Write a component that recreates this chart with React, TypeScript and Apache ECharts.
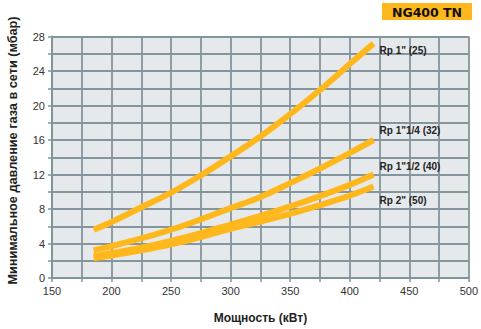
import React, { useEffect, useRef } from "react";
import * as echarts from "echarts";

const power = [185, 200, 225, 250, 275, 300, 325, 350, 375, 400, 420];
const rp1 = [5.6, 6.5, 8.2, 9.9, 11.9, 14.1, 16.4, 19.0, 21.8, 24.8, 27.2];
const rp114 = [3.2, 3.7, 4.6, 5.6, 6.8, 8.1, 9.4, 11.0, 12.7, 14.5, 16.0];
const rp112 = [2.5, 2.9, 3.5, 4.3, 5.2, 6.2, 7.2, 8.3, 9.5, 10.8, 12.0];
const rp2 = [2.3, 2.6, 3.2, 3.9, 4.75, 5.7, 6.55, 7.45, 8.45, 9.55, 10.6];
const seriesNames = ['Rp 1" (25)', 'Rp 1"1/4 (32)', 'Rp 1"1/2 (40)', 'Rp 2" (50)'];
const labelOffsets = [7, -10, -8, 14];
const title = "NG400 TN";
const xName = "Мощность (кВт)";
const yName = "Минимальное давление газа в сети (мбар)";

export default function App() {
  const ref = useRef<HTMLDivElement>(null);
  useEffect(() => {
    if (!ref.current) return;
    const chart = echarts.init(ref.current, null, { renderer: "svg" });
    const all = [rp1, rp114, rp112, rp2];
    const font = "Liberation Sans, Arial, sans-serif";
    const gridColor = "#84959d";
    chart.setOption({
      animation: false,
      backgroundColor: "#ffffff",
      grid: {
        left: 52, right: 9, top: 36.5, bottom: 48.5,
        show: true, backgroundColor: "#e6e9ec", borderWidth: 0,
      },
      xAxis: {
        type: "value", min: 150, max: 500, interval: 25,
        name: xName, nameLocation: "middle", nameGap: 34,
        nameTextStyle: { fontFamily: font, fontWeight: "bold", fontSize: 12, color: "#222" },
        axisLine: { show: true, lineStyle: { color: "#7f949d", width: 2 } },
        axisTick: { show: true, interval: 1, length: 4, lineStyle: { color: "#7f949d", width: 1.5 } },
        axisLabel: {
          interval: 1, margin: 7, fontFamily: font, fontSize: 11, color: "#333",
          formatter: (v: number) => (v % 50 === 0 ? String(v) : ""),
        },
        splitLine: { show: true, lineStyle: { color: gridColor, width: 1.8 } },
      },
      yAxis: {
        type: "value", min: 0, max: 28, interval: 2,
        axisLine: { show: true, lineStyle: { color: "#7f949d", width: 2 } },
        axisTick: { show: true, length: 4, lineStyle: { color: "#7f949d", width: 1.5 } },
        axisLabel: {
          margin: 7, fontFamily: font, fontSize: 11, color: "#333",
          formatter: (v: number) => (v % 4 === 0 ? String(v) : ""),
        },
        splitLine: { show: true, lineStyle: { color: gridColor, width: 1.8 } },
      },
      graphic: [
        { type: "rect", shape: { x: 382, y: 3, width: 90, height: 17 }, style: { fill: "#ffb81c" } },
        {
          type: "text", x: 427, y: 12,
          style: {
            text: title, fill: "#111", font: `bold 12.5px "DejaVu Sans", sans-serif`,
            textAlign: "center", textVerticalAlign: "middle",
          },
        },
        {
          type: "text", x: 13, y: 150.5, rotation: Math.PI / 2,
          style: {
            text: yName, fill: "#222", font: `bold 12.7px ${font}`,
            textAlign: "center", textVerticalAlign: "middle",
          },
        },
      ],
      series: all.map((vals, i) => ({
        type: "line", name: seriesNames[i],
        data: power.map((p, j) => [p, vals[j]]),
        smooth: 0.4, symbol: "none",
        lineStyle: { color: "#ffb81c", width: 6, cap: "butt" },
        endLabel: {
          show: true, formatter: seriesNames[i], distance: 6, offset: [0, labelOffsets[i]],
          fontFamily: font, fontWeight: "bold", fontSize: 10, color: "#222",
        },
        z: 3,
      })),
    });
    return () => chart.dispose();
  }, []);
  return <div ref={ref} style={{ position: "absolute", left: 0, top: 0, width: 481, height: 329 }} />;
}
